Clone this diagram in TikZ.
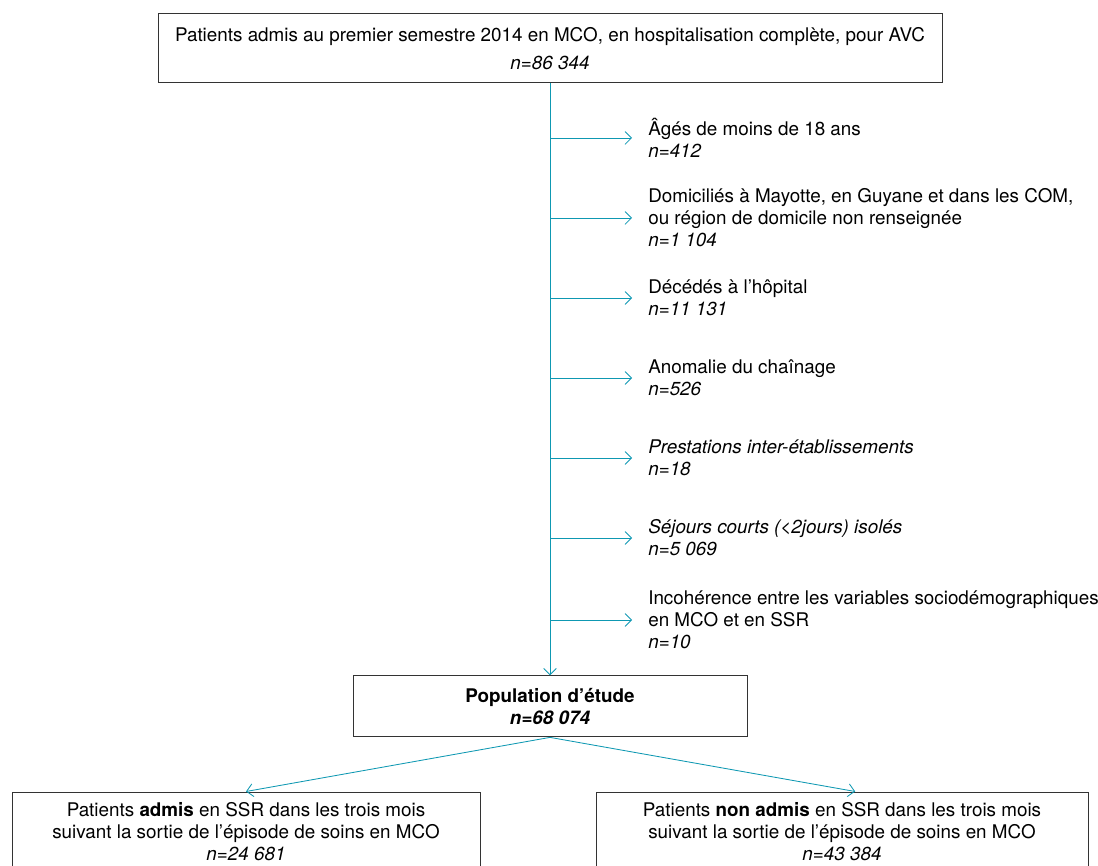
\documentclass[tikz,border=0pt]{standalone}
\usepackage{fontspec}
\setmainfont{TeX Gyre Heros}
\usetikzlibrary{arrows.meta}
\definecolor{bleuflux}{RGB}{14,152,178}
\tikzset{
	boite/.style={draw=black!80, line width=0.7pt, align=center, inner sep=0pt},
	sortie/.style={anchor=west, align=left, inner xsep=0.2cm, inner ysep=0pt},
	fleche/.style={draw=bleuflux, line width=0.6pt, -{Straight Barb[length=1.6mm, width=3.2mm]}},
}
\begin{document}
\begin{tikzpicture}[font=\fontsize{13.4}{15.6}\selectfont]
		\path[use as bounding box, clip] (0,0) rectangle (27.45,21.65);
		\node[boite, minimum width=19.6cm, minimum height=1.725cm] (admis) at (13.75,20.44) {Patients admis au premier semestre 2014 en MCO, en hospitalisation complète, pour AVC\\[4pt] \textit{n=86 344}};
		\node[boite, minimum width=9.85cm, minimum height=1.525cm] (pop) at (13.75,3.99) {\textbf{Population d’étude}\\ \textbf{\textit{n=68 074}}};
		\node[boite, minimum width=11.7cm, minimum height=2.0cm] (ssr) at (6.15,0.85) {Patients \textbf{admis} en SSR dans les trois mois\\ suivant la sortie de l’épisode de soins en MCO\\ \textit{n=24 681}};
		\node[boite, minimum width=12.3cm, minimum height=2.0cm] (nonssr) at (21.05,0.85) {Patients \textbf{non admis} en SSR dans les trois mois\\ suivant la sortie de l’épisode de soins en MCO\\ \textit{n=43 384}};
		\node[sortie] (ex1) at (16.0,18.2) {Âgés de moins de 18 ans\\ \textit{n=412}};
		\node[sortie] (ex2) at (16.0,16.2) {Domiciliés à Mayotte, en Guyane et dans les COM,\\ ou région de domicile non renseignée\\ \textit{n=1 104}};
		\node[sortie] (ex3) at (16.0,14.2) {Décédés à l’hôpital\\ \textit{n=11 131}};
		\node[sortie] (ex4) at (16.0,12.2) {Anomalie du chaînage\\ \textit{n=526}};
		\node[sortie] (ex5) at (16.0,10.2) {\textit{Prestations inter-établissements}\\ \textit{n=18}};
		\node[sortie] (ex6) at (16.0,8.2) {\textit{Séjours courts (<2jours) isolés}\\ \textit{n=5 069}};
		\node[sortie] (ex7) at (16.0,6.15) {Incohérence entre les variables sociodémographiques\\ en MCO et en SSR\\ \textit{n=10}};
		\draw[fleche] (admis.south) -- (pop.north);
		\foreach \n in {ex1,ex2,ex3,ex4,ex5,ex6,ex7}
			\draw[fleche, shorten >=0.2cm] (admis.south |- \n.west) -- (\n.west);
		\draw[fleche] (pop.south) -- (ssr.north);
		\draw[fleche] (pop.south) -- ([xshift=0.33cm]nonssr.north);
	\end{tikzpicture}
\end{document}
